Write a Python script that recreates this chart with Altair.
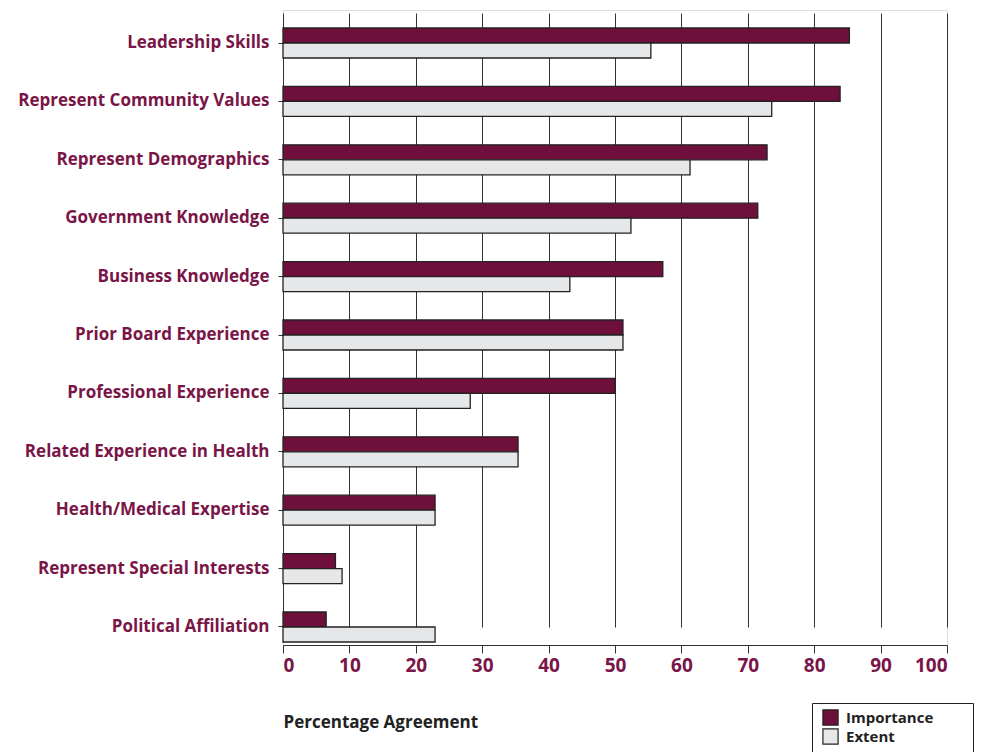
import altair as alt
import pandas as pd

categories = ["Leadership Skills", "Represent Community Values", "Represent Demographics",
              "Government Knowledge", "Business Knowledge", "Prior Board Experience",
              "Professional Experience", "Related Experience in Health",
              "Health/Medical Expertise", "Represent Special Interests", "Political Affiliation"]
importance = [85.3, 83.9, 72.9, 71.5, 57.2, 51.2, 50.0, 35.4, 22.9, 7.9, 6.5]
extent = [55.4, 73.6, 61.3, 52.4, 43.2, 51.2, 28.2, 35.4, 22.9, 8.9, 22.9]
series = ["Importance", "Extent"]
x_ticks = [0, 10, 20, 30, 40, 50, 60, 70, 80, 90, 100]

rows = []
for c, i, e in zip(categories, importance, extent):
    rows.append({"category": c, "series": "Importance", "value": i})
    rows.append({"category": c, "series": "Extent", "value": e})
df = pd.DataFrame(rows)

maroon = "#6e0f3c"
label_col = "#7a1547"
FONT = "Open Sans"
pad = "\u2800" * 3

chart = alt.Chart(df).mark_bar(stroke="#222222", strokeWidth=1.3).encode(
    x=alt.X("value:Q", scale=alt.Scale(domain=[0, 100], nice=False),
            axis=alt.Axis(values=x_ticks, title="Percentage Agreement", grid=True,
                          gridColor="#333333", gridWidth=1, gridOpacity=1,
                          domainColor="#333333", tickColor="#333333", tickSize=8,
                          labelColor=label_col, labelFont=FONT, labelFontSize=19,
                          labelFontWeight="bold", labelPadding=3,
                          titleFont=FONT, titleFontSize=17, titleFontWeight="bold",
                          titleColor="#222222", titleAnchor="start", titleAlign="left",
                          titleX=0, titleY=77, titleBaseline="middle")),
    y=alt.Y("category:N", sort=categories,
            scale=alt.Scale(range=[18, 632], paddingInner=0.4863, paddingOuter=0),
            axis=alt.Axis(title=None, grid=False, domainColor="#333333",
                          tickColor="#333333", tickSize=5, labelPadding=9, labelLimit=0,
                          labelColor=label_col, labelFont=FONT, labelFontSize=17,
                          labelFontWeight="bold")),
    yOffset=alt.YOffset("series:N", sort=series),
    color=alt.Color("series:N", sort=series,
                    scale=alt.Scale(domain=series, range=[maroon, "#e6e7e8"]),
                    legend=alt.Legend(title=None, orient="none", legendX=529, legendY=693,
                                      symbolType="square", symbolSize=230,
                                      symbolStrokeColor="#222222", symbolStrokeWidth=1.2,
                                      labelFont=FONT, labelFontSize=15, labelLimit=400,
                                      labelFontWeight="bold", labelColor="#222222",
                                      labelExpr="datum.label + '" + pad + "'",
                                      strokeColor="#222222", padding=6, rowPadding=-4,
                                      labelOffset=7, symbolOffset=4)),
).properties(
    width=664, height=635,
    autosize=alt.AutoSizeParams(type="none"),
    padding={"left": 283, "top": 10, "right": 35, "bottom": 107},
).configure_view(stroke="#333333", strokeWidth=1).configure(background="white")

chart.save("out.html", embed_options={"renderer": "svg", "actions": False})
